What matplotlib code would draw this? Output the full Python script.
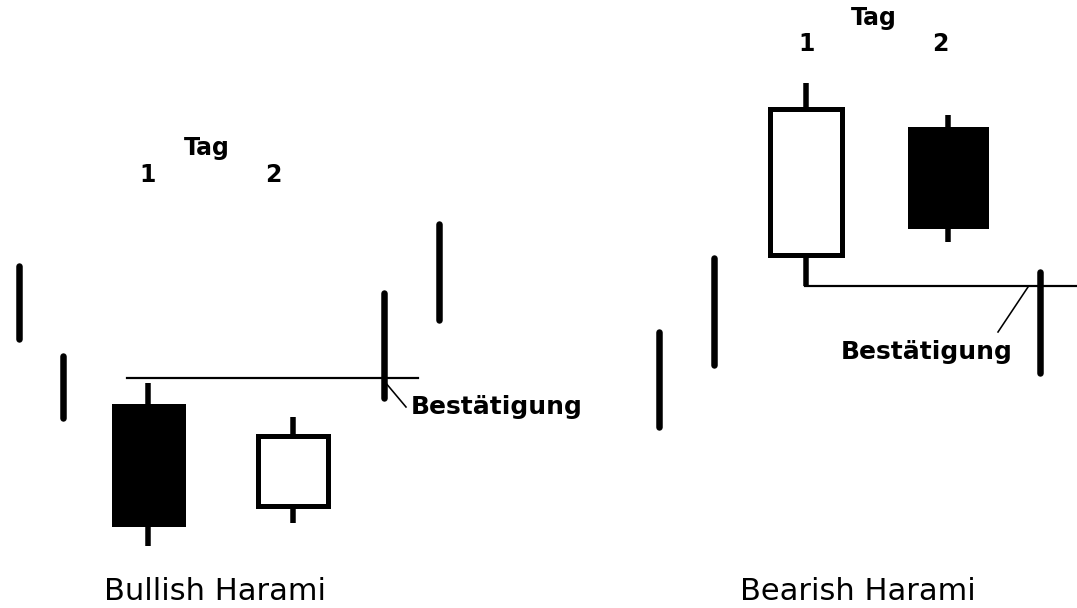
import matplotlib.pyplot as plt
from matplotlib.patches import Rectangle

# price scale runs from 0 (bottom) to 608 (top); x is just the horizontal slot
# plain bars (high/low only) around the pattern
bar_x = [19, 63, 384, 439, 659, 714, 1040]
bar_high = [342, 252, 315, 384, 276, 350, 336]
bar_low = [269, 190, 210, 288, 181, 243, 235]

# harami candles: x, open, close, high, low, width
candle_x = [148, 292.5, 805.5, 947.5]
candle_open = [205, 100, 351, 482]
candle_close = [82, 175, 502, 380]
candle_high = [225, 191, 525, 493]
candle_low = [62, 85, 322, 366]
candle_width = [74, 75, 77, 81]

# confirmation levels (start x, end x, level) and pointer to the label
level_x0 = [127, 805]
level_x1 = [418, 1077]
level_y = [230, 322]
pointer_from = [(385, 226), (1028, 321)]
pointer_to = [(406, 201), (998, 276)]
label_pos = [(411, 201, "left"), (927, 256, "center")]
label_text = "Bestätigung"

tag_pos = [(207, 460), (874, 590)]
day_labels = ["1", "2"]
day_x = [(148, 273), (807, 940)]
day_y = [433, 564]

titles = ["Bullish Harami", "Bearish Harami"]
title_x = [215, 858]

PX = 72 / 100  # points per pixel at dpi 100

fig = plt.figure(figsize=(10.77, 6.08), dpi=100)
ax = fig.add_axes([0, 0, 1, 1])
ax.set_xlim(0, 1077)
ax.set_ylim(0, 608)
ax.axis("off")

for x, hi, lo in zip(bar_x, bar_high, bar_low):
    ax.plot([x, x], [lo, hi], color="black", lw=6.5 * PX, solid_capstyle="round")

for x, o, c, hi, lo, w in zip(candle_x, candle_open, candle_close,
                              candle_high, candle_low, candle_width):
    ax.plot([x, x], [lo, hi], color="black", lw=5.5 * PX, solid_capstyle="butt", zorder=1)
    bottom, top = min(o, c), max(o, c)
    bearish = c < o
    border = 5
    ax.add_patch(Rectangle((x - (w - border) / 2, bottom + border / 2),
                           w - border, top - bottom - border,
                           facecolor="black" if bearish else "white",
                           edgecolor="black", lw=border * PX, zorder=2))

for x0, x1, y in zip(level_x0, level_x1, level_y):
    ax.plot([x0, x1], [y, y], color="black", lw=2.2 * PX, zorder=3)

for (xa, ya), (xb, yb) in zip(pointer_from, pointer_to):
    ax.plot([xa, xb], [ya, yb], color="black", lw=1.6 * PX, zorder=3)

for x, y, ha in label_pos:
    ax.text(x, y, label_text, ha=ha, va="center", fontsize=18, fontweight="bold")

for (x, y), (d1, d2), dy in zip(tag_pos, day_x, day_y):
    ax.text(x, y, "Tag", ha="center", va="center", fontsize=17, fontweight="bold")
    ax.text(d1, dy, day_labels[0], ha="center", va="center", fontsize=17, fontweight="bold")
    ax.text(d2, dy, day_labels[1], ha="center", va="center", fontsize=17, fontweight="bold")

for x, t in zip(title_x, titles):
    ax.text(x, 8, t, ha="center", va="baseline", fontsize=22)

fig.savefig("out.png", dpi=100)
